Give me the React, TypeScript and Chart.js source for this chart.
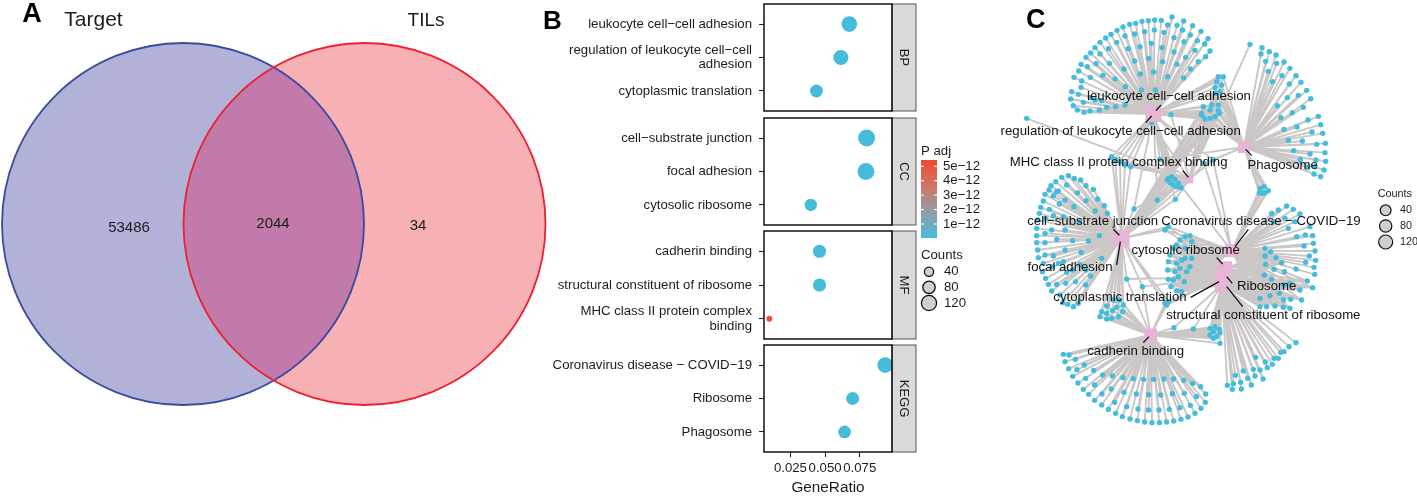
import React, { useEffect, useRef } from "react";
import { Chart, registerables } from "chart.js";
Chart.register(...registerables);

type P = [number, number];
const FONT = "'Liberation Sans', Arial, sans-serif";
const INK = "#1c1c1c";

/* ---------- Panel A ---------- */
const vennNames = ["Target", "TILs"];
const vennCenterX = [183, 364.5];
const vennCenterY = [224, 224];
const vennRadius = [181, 181];
const vennCounts = ["53486", "2044", "34"];

/* ---------- Panel B ---------- */
const facetNames = ["BP", "CC", "MF", "KEGG"];
const bpTerms = ["leukocyte cell\u2212cell adhesion", ["regulation of leukocyte cell\u2212cell", "adhesion"], "cytoplasmic translation"];
const ccTerms = ["cell\u2212substrate junction", "focal adhesion", "cytosolic ribosome"];
const mfTerms = ["cadherin binding", "structural constituent of ribosome", ["MHC class II protein complex", "binding"]];
const keggTerms = ["Coronavirus disease \u2212 COVID\u221219", "Ribosome", "Phagosome"];
const bpRatio = [0.0675, 0.0614, 0.0438];
const ccRatio = [0.08, 0.0795, 0.0397];
const mfRatio = [0.046, 0.046, 0.0098];
const keggRatio = [0.0934, 0.0699, 0.0641];
const bpCounts = [115, 108, 78];
const ccCounts = [135, 132, 72];
const mfCounts = [82, 82, 16];
const keggCounts = [115, 80, 75];
const bpPadj = [1e-14, 1e-14, 1e-14];
const ccPadj = [1e-14, 1e-14, 1e-14];
const mfPadj = [1e-14, 1e-14, 5.4e-12];
const keggPadj = [1e-14, 1e-14, 1e-14];
const ratioTicks = [0.025, 0.05, 0.075];
const padjTicks = [5e-12, 4e-12, 3e-12, 2e-12, 1e-12];
const padjLabels = ["5e\u221212", "4e\u221212", "3e\u221212", "2e\u221212", "1e\u221212"];
const countLegend = [40, 80, 120];

/* ---------- Panel C: network layout ---------- */
const hubNames = ["leukocyte", "regulation", "phagosome", "mhc", "cellSubstrate", "focal", "corona", "cytosolic", "ribosome", "cytoplasmic", "structural", "cadherin"];
const hubX = [460, 462, 732, 568, 364, 366, 695, 675, 667, 665, 665, 452];
const hubY = [342, 344, 441, 538, 715, 717, 752, 805, 832, 845, 855, 1005];
const hubSide = [16, 14, 12, 8, 16, 15, 13, 14, 13, 13, 14, 13];

const fanLeukocyte: P[] = [[215,275],[212,297],[220,317],[232,330],[252,337],[270,333],[298,330],[222,232],[236,213],[243,193],[258,172],[272,159],[285,143],[300,127],[317,114],[333,103],[351,91],[369,81],[389,73],[407,70],[426,64],[445,62],[464,60],[484,61],[503,75],[516,51],[531,76],[551,63],[548,90],[578,77],[571,105],[603,94],[592,122],[624,116],[614,132],[630,153],[617,170],[245,243],[235,283],[250,307],[272,293],[262,200],[288,191],[300,162],[325,146],[350,127],[375,108],[404,102],[434,95],[463,90],[492,97],[522,113],[552,125],[585,151],[522,156],[595,185],[557,172],[572,207],[551,234],[243,262],[271,232],[308,226],[328,190],[372,207],[345,237],[385,146],[404,183],[420,140],[421,222],[446,175],[454,130],[486,143],[488,185],[461,216],[503,230],[531,193],[376,260],[424,270],[466,270],[320,322],[347,320],[375,315],[285,300],[305,302]];
const fanPhagosome: P[] = [[786,143],[783,162],[808,155],[797,184],[828,165],[805,214],[830,190],[852,186],[818,245],[846,227],[870,205],[888,227],[868,252],[903,247],[862,293],[895,286],[920,271],[832,317],[877,338],[910,322],[932,296],[843,353],[891,381],[924,360],[955,349],[852,388],[936,396],[962,374],[968,400],[865,421],[907,423],[950,433],[976,430],[881,452],[930,462],[975,458],[901,479],[948,480],[977,484],[922,503],[945,500],[972,510],[942,522],[962,530]];
const fanCellSubstrate: P[] = [[205,527],[185,532],[167,545],[153,557],[147,570],[135,583],[130,603],[122,622],[118,640],[113,660],[223,535],[242,540],[258,557],[280,568],[293,597],[313,617],[322,640],[200,555],[175,573],[160,588],[148,628],[137,655],[170,575],[195,600],[232,578],[258,602],[285,633],[178,612],[222,620],[160,647],[238,665],[190,650],[155,690],[195,690],[110,685],[110,707],[110,728],[113,750],[115,773],[127,815],[137,835],[145,853],[155,873],[180,885],[188,908],[203,913],[220,920],[235,910],[135,700],[135,728],[135,765],[130,790],[160,768],[170,718],[218,722],[265,723],[298,707],[305,775],[195,750],[243,757],[190,785],[175,790],[157,800],[200,817],[217,810],[258,810],[170,853],[197,850],[227,845],[257,855],[272,828],[240,793]];
const fanCorona: P[] = [[860,618],[835,630],[880,628],[815,640],[900,642],[820,665],[855,655],[930,680],[885,665],[865,685],[890,710],[916,705],[938,707],[912,738],[940,730],[945,753],[928,768],[947,781],[917,787],[942,802],[944,823],[888,807],[853,815],[822,808],[795,745]];
const fanRibosome: P[] = [[812,755],[828,773],[795,768],[845,788],[797,793],[793,825],[815,838],[922,843],[938,863],[870,850],[852,855],[900,870],[838,880],[810,887],[780,895],[850,900],[872,898],[905,900],[780,920],[800,920],[825,918],[850,922],[870,925]];
const fanStructural: P[] = [[888,1028],[867,1040],[852,1055],[842,1057],[822,1075],[835,1075],[767,1072],[796,1086],[817,1093],[802,1103],[730,1113],[760,1108],[780,1110],[706,1126],[743,1135],[765,1128],[789,1137],[682,1156],[700,1151],[722,1147],[754,1155],[697,1168],[724,1167]];
const fanCadherin: P[] = [[190,1063],[207,1065],[226,1078],[195,1085],[206,1106],[231,1109],[253,1095],[281,1111],[218,1129],[257,1135],[234,1149],[284,1155],[250,1168],[266,1183],[284,1201],[305,1215],[325,1228],[347,1240],[367,1250],[390,1257],[412,1262],[434,1266],[456,1268],[478,1268],[500,1266],[521,1263],[543,1258],[564,1251],[585,1240],[603,1225],[616,1207],[617,1182],[602,1160],[578,1150],[551,1141],[521,1137],[492,1137],[461,1138],[431,1138],[400,1136],[369,1133],[337,1128],[308,1125],[306,1182],[334,1167],[372,1177],[409,1182],[446,1184],[482,1185],[517,1181],[553,1180],[589,1190],[344,1207],[380,1220],[414,1227],[446,1230],[477,1230],[508,1228],[540,1223],[571,1216]];
const clusterTopCentre: P[] = [[655,230],[670,230],[650,245],[665,255],[645,262],[660,275],[647,280]];
const clusterRing: P[] = [[610,320],[635,315],[655,315],[605,340],[630,330],[655,332],[605,345],[615,357],[630,355],[645,350],[658,340]];
const clusterMhc: P[] = [[502,540],[515,530],[525,538],[535,550],[510,548],[520,555],[530,560],[543,563],[505,535],[472,600],[526,598]];
const clusterLeftBand: P[] = [[335,470],[345,478],[360,485],[375,495],[392,500],[402,627]];
const clusterMidBand: P[] = [[480,478],[640,480],[612,490]];
const clusterBelowPhago: P[] = [[780,565],[793,560],[805,572],[785,580],[795,578],[778,578]];
const clusterCytosolic: P[] = [[570,707],[555,710],[540,720],[530,735],[575,725],[555,745],[520,745],[510,765],[505,785],[503,810],[505,838],[513,860],[530,872],[545,875],[530,790],[525,815],[520,840],[545,780],[540,805],[535,830],[553,845],[560,815],[570,800],[575,775],[555,775]];
const clusterSubstrateLink: P[] = [[505,680],[495,690]];
const clusterCytoplasmic: P[] = [[305,935],[320,918],[340,900],[358,900],[370,915],[368,935],[355,950],[335,955],[320,957],[300,950],[320,940],[338,932],[350,922]];
const clusterCadStruct: P[] = [[630,985],[645,980],[658,988],[660,998],[650,1010],[640,1015],[630,1005],[640,995],[660,1030],[522,983],[580,987]];
const clusterSmallMid: P[] = [[380,837],[427,860],[495,910],[505,905],[500,915]];
const soloMhc: P[] = [[750,133],[80,355]];
const soloLeuk: P[] = [[513,344],[455,368]];

const leafGroups: { leaves: P[]; parents: string[] }[] = [
  { leaves: fanLeukocyte, parents: ["leukocyte"] },
  { leaves: fanPhagosome, parents: ["phagosome"] },
  { leaves: fanCellSubstrate, parents: ["cellSubstrate"] },
  { leaves: fanCorona, parents: ["corona"] },
  { leaves: fanRibosome, parents: ["corona", "ribosome", "cytosolic", "structural"] },
  { leaves: fanStructural, parents: ["structural"] },
  { leaves: fanCadherin, parents: ["cadherin"] },
  { leaves: clusterTopCentre, parents: ["leukocyte", "phagosome", "mhc"] },
  { leaves: clusterRing, parents: ["leukocyte", "phagosome", "mhc", "cellSubstrate"] },
  { leaves: clusterMhc, parents: ["mhc", "cellSubstrate", "leukocyte"] },
  { leaves: clusterLeftBand, parents: ["leukocyte", "cellSubstrate", "mhc"] },
  { leaves: clusterMidBand, parents: ["phagosome", "corona", "leukocyte", "mhc"] },
  { leaves: clusterBelowPhago, parents: ["phagosome", "corona"] },
  { leaves: clusterCytosolic, parents: ["cytosolic", "ribosome", "cytoplasmic", "structural", "corona"] },
  { leaves: clusterSubstrateLink, parents: ["cellSubstrate", "corona", "cytosolic"] },
  { leaves: clusterCytoplasmic, parents: ["cellSubstrate", "cadherin"] },
  { leaves: clusterCadStruct, parents: ["cadherin", "structural"] },
  { leaves: clusterSmallMid, parents: ["cellSubstrate", "cadherin", "ribosome"] },
  { leaves: soloMhc, parents: ["mhc"] },
  { leaves: soloLeuk, parents: ["leukocyte", "mhc"] },
];

const netLabels = ["leukocyte cell\u2212cell adhesion", "regulation of leukocyte cell\u2212cell adhesion", "MHC class II protein complex binding", "Phagosome", "cell\u2212substrate junction", "focal adhesion", "Coronavirus disease \u2212 COVID\u221219", "cytosolic ribosome", "Ribosome", "cytoplasmic translation", "structural constituent of ribosome", "cadherin binding"];
const netLabelX = [507, 362, 356, 848, 278, 210, 783, 557, 800, 360, 790, 407];
const netLabelY = [288, 395, 488, 495, 663, 801, 663, 750, 858, 891, 947, 1055];
const netLeaderFrom: P[] = [[483,315],[437,368],[548,512],[755,467],[340,688],[350,795],[745,688],[650,773],[697,850],[572,892],[728,920],[430,1028]];
const netLeaderTo: P[] = [[468,332],[455,348],[565,532],[737,448],[358,706],[361,725],[705,740],[668,792],[680,830],[657,845],[680,860],[447,1010]];
const netCountLegendY = [631, 678, 726];
const netCountLegendR = [5.4, 6.2, 7];

const sizeOf = (c: number) => 0.73 * Math.sqrt(c);
const noAxis = { display: false };

function text(ctx: CanvasRenderingContext2D, s: string, x: number, y: number, font: string, align: CanvasTextAlign = "left", color = INK) {
  ctx.save();
  ctx.font = font;
  ctx.fillStyle = color;
  ctx.textAlign = align;
  ctx.textBaseline = "middle";
  ctx.fillText(s, x, y);
  ctx.restore();
}

const canvasStyle = (left: number, top: number, w: number, h: number): React.CSSProperties => ({ position: "absolute", left, top, width: w, height: h, display: "block" });

const FACET_LEFT = 540;
const facetTops = [4, 118, 231, 345];
const facetHeights = [107, 107, 108, 107];
const facetTerms = [bpTerms, ccTerms, mfTerms, keggTerms];
const facetRatios = [bpRatio, ccRatio, mfRatio, keggRatio];
const facetCounts = [bpCounts, ccCounts, mfCounts, keggCounts];
const facetPadj = [bpPadj, ccPadj, mfPadj, keggPadj];

export default function App() {
  const venn = useRef<HTMLCanvasElement>(null);
  const facets = [useRef<HTMLCanvasElement>(null), useRef<HTMLCanvasElement>(null), useRef<HTMLCanvasElement>(null), useRef<HTMLCanvasElement>(null)];
  const legend = useRef<HTMLCanvasElement>(null);
  const net = useRef<HTMLCanvasElement>(null);

  useEffect(() => {
    document.body.style.margin = "0";
    document.body.style.background = "#fff";
    const charts: Chart[] = [];

    /* Panel A */
    const circle = (i: number, fill: string, stroke: string, width: number, order: number) => ({
      data: [{ x: vennCenterX[i], y: vennCenterY[i], r: vennRadius[i] }],
      backgroundColor: fill,
      borderColor: stroke,
      borderWidth: width,
      order,
      clip: false,
    });
    charts.push(new Chart(venn.current!, {
      type: "bubble",
      data: {
        datasets: [
          circle(1, "transparent", "#ec2230", 1.8, 1),
          circle(0, "transparent", "#3a4ba0", 1.8, 2),
          circle(1, "rgb(247,176,180)", "transparent", 0, 3),
          circle(0, "rgb(178,178,216)", "transparent", 0, 4),
        ] as any,
      },
      options: {
        animation: false, responsive: false,
        layout: { autoPadding: false },
        plugins: { legend: noAxis, tooltip: { enabled: false } },
        scales: { x: { ...noAxis, type: "linear", min: 0, max: 550 }, y: { ...noAxis, type: "linear", min: 0, max: 497, reverse: true } },
      },
      plugins: [{
        id: "vennOverlap",
        afterDatasetDraw(c: any, args: any) {
          if (args.index !== 2) return;
          const ctx = c.ctx, xs = c.scales.x, ys = c.scales.y;
          ctx.save();
          ctx.beginPath();
          ctx.arc(xs.getPixelForValue(vennCenterX[0]), ys.getPixelForValue(vennCenterY[0]), vennRadius[0], 0, Math.PI * 2);
          ctx.clip();
          ctx.beginPath();
          ctx.arc(xs.getPixelForValue(vennCenterX[1]), ys.getPixelForValue(vennCenterY[1]), vennRadius[1], 0, Math.PI * 2);
          ctx.fillStyle = "rgb(193,122,170)";
          ctx.fill();
          ctx.restore();
        },
      }, {
        id: "vennText",
        afterDraw(c: any) {
          const ctx = c.ctx, xs = c.scales.x, ys = c.scales.y;
          const px = (v: number) => xs.getPixelForValue(v), py = (v: number) => ys.getPixelForValue(v);
          text(ctx, "A", px(32), py(15), `bold 27px ${FONT}`, "center", "#000");
          text(ctx, vennNames[0], px(93.5), py(20), `21px ${FONT}`, "center");
          text(ctx, vennNames[1], px(426), py(21), `19px ${FONT}`, "center");
          text(ctx, vennCounts[0], px(129), py(228), `15px ${FONT}`, "center");
          text(ctx, vennCounts[1], px(273), py(224), `15px ${FONT}`, "center");
          text(ctx, vennCounts[2], px(418), py(226), `15px ${FONT}`, "center");
        },
      }],
    } as any));

    /* Panel B */
    facetNames.forEach((name, f) => {
      const last = f === facetNames.length - 1;
      charts.push(new Chart(facets[f].current!, {
        type: "scatter",
        data: {
          datasets: [{
            data: facetRatios[f].map((x, i) => ({ x, y: i })),
            pointRadius: facetCounts[f].map(sizeOf),
            pointBackgroundColor: facetPadj[f].map((p) => (p > 2.5e-12 ? "#ee4d2f" : "#46bcdb")),
            pointBorderWidth: 0,
          }],
        },
        options: {
          animation: false, responsive: false,
          layout: { autoPadding: false, padding: { left: 0, right: 28, top: 4, bottom: last ? 0 : 4 } },
          plugins: { legend: noAxis, tooltip: { enabled: false } },
          scales: {
            x: {
              type: "linear", min: 0.00594, max: 0.0983, display: last,
              afterBuildTicks: (a: any) => { a.ticks = ratioTicks.map((value) => ({ value })); },
              afterFit: (a: any) => { if (last) a.height = 45; a.paddingLeft = 0; a.paddingRight = 0; },
              grid: { drawOnChartArea: false, drawTicks: true, tickLength: 5, tickColor: "#222", tickWidth: 1.1 },
              border: { display: false },
              ticks: { color: INK, font: { size: 13.2, family: FONT }, maxRotation: 0, autoSkip: false, padding: 3, callback: (v: any) => Number(v).toFixed(3) },
              title: { display: true, text: "GeneRatio", color: INK, font: { size: 15.3, family: FONT }, padding: { top: 2, bottom: 0 } },
            },
            y: {
              type: "linear", min: -0.6, max: 2.6, reverse: true,
              afterBuildTicks: (a: any) => { a.ticks = [0, 1, 2].map((value) => ({ value })); },
              afterFit: (a: any) => { a.width = 224; a.paddingTop = 0; a.paddingBottom = 0; },
              grid: { drawOnChartArea: false, drawTicks: true, tickLength: 5, tickColor: "#222", tickWidth: 1.1 },
              border: { display: false },
              ticks: { color: INK, font: { size: 13.2, family: FONT, lineHeight: 1.1 }, padding: 7, autoSkip: false, callback: (v: any) => facetTerms[f][v] as any },
            },
          },
        },
        plugins: [{
          id: "facetFrame",
          afterDatasetsDraw(c: any) {
            const { ctx, chartArea: a } = c;
            ctx.save();
            ctx.fillStyle = "#d9d9d9";
            ctx.strokeStyle = "#555";
            ctx.lineWidth = 1;
            ctx.fillRect(a.right, a.top, 24, a.bottom - a.top);
            ctx.strokeRect(a.right, a.top, 24, a.bottom - a.top);
            ctx.strokeStyle = "#111";
            ctx.lineWidth = 1.5;
            ctx.strokeRect(a.left, a.top, a.right - a.left, a.bottom - a.top);
            ctx.translate(a.right + 12, (a.top + a.bottom) / 2);
            ctx.rotate(Math.PI / 2);
            ctx.font = `13px ${FONT}`;
            ctx.fillStyle = INK;
            ctx.textAlign = "center";
            ctx.textBaseline = "middle";
            ctx.fillText(name, 0, 0);
            ctx.restore();
          },
        }],
      } as any));
    });

    /* Panel B legends */
    const legendY = [271.7, 287.3, 303];
    charts.push(new Chart(legend.current!, {
      type: "scatter",
      data: {
        datasets: [{
          data: countLegend.map((_, i) => ({ x: 929, y: legendY[i] })),
          pointRadius: [4.6, 6.2, 7.6],
          pointBackgroundColor: "#cfcfcf",
          pointBorderColor: "#111",
          pointBorderWidth: 1.3,
        }],
      },
      options: {
        animation: false, responsive: false,
        layout: { autoPadding: false },
        plugins: { legend: noAxis, tooltip: { enabled: false } },
        scales: { x: { ...noAxis, type: "linear", min: 915, max: 1000 }, y: { ...noAxis, type: "linear", min: 0, max: 320, reverse: true } },
      },
      plugins: [{
        id: "legendDraw",
        afterDraw(c: any) {
          const ctx = c.ctx, xs = c.scales.x, ys = c.scales.y;
          const px = (v: number) => xs.getPixelForValue(v), py = (v: number) => ys.getPixelForValue(v);
          const top = py(160), bot = py(238), l = px(921), r = px(937);
          const g = ctx.createLinearGradient(0, top, 0, bot);
          g.addColorStop(0, "rgb(236,74,48)");
          g.addColorStop(0.35, "rgb(207,120,105)");
          g.addColorStop(0.65, "rgb(150,155,165)");
          g.addColorStop(1, "rgb(70,188,220)");
          ctx.fillStyle = g;
          ctx.fillRect(l, top, r - l, bot - top);
          const pxPerUnit = (224 - 166.3) / 4e-12;
          padjTicks.forEach((v, i) => {
            const y = py(224 - (v - 1e-12) * pxPerUnit);
            ctx.strokeStyle = "#fff";
            ctx.lineWidth = 1;
            ctx.beginPath();
            ctx.moveTo(l, y); ctx.lineTo(l + 3, y);
            ctx.moveTo(r - 3, y); ctx.lineTo(r, y);
            ctx.stroke();
            text(ctx, padjLabels[i], px(943), y, `13.2px ${FONT}`);
          });
          text(ctx, "P adj", px(921), py(151), `13.2px ${FONT}`);
          text(ctx, "Counts", px(921), py(255), `13.2px ${FONT}`);
          countLegend.forEach((v, i) => text(ctx, String(v), px(944), py(legendY[i]), `13.2px ${FONT}`));
        },
      }],
    } as any));

    /* Panel C */
    const edges: any[] = [];
    leafGroups.forEach((g) => g.leaves.forEach(([x, y]) => g.parents.forEach((p) => {
      const h = hubNames.indexOf(p);
      edges.push({ x: hubX[h], y: hubY[h] }, { x, y }, { x: NaN, y: NaN });
    })));
    const leaders: any[] = [];
    netLeaderFrom.forEach((a, i) => leaders.push({ x: a[0], y: a[1] }, { x: netLeaderTo[i][0], y: netLeaderTo[i][1] }, { x: NaN, y: NaN }));
    const allLeaves = leafGroups.flatMap((g) => g.leaves.map(([x, y]) => ({ x, y })));
    charts.push(new Chart(net.current!, {
      type: "scatter",
      data: {
        datasets: [
          { data: leaders, showLine: true, spanGaps: false, borderColor: "#111", borderWidth: 1.3, pointRadius: 0, order: 1 },
          { data: hubX.map((x, i) => ({ x, y: hubY[i] })), pointStyle: "rect", pointRadius: hubSide.map((s) => s * Math.SQRT1_2), pointBackgroundColor: "#e8b4d6", pointBorderWidth: 0, order: 2 },
          { data: allLeaves, pointRadius: 2.7, pointBackgroundColor: "#46bcdb", pointBorderWidth: 0, order: 3 },
          { data: edges, showLine: true, spanGaps: false, borderColor: "#cbc7c7", borderWidth: 1.9, pointRadius: 0, order: 4 },
          { data: netCountLegendY.map((y) => ({ x: 1157, y })), pointRadius: netCountLegendR, pointBackgroundColor: "#cfcfcf", pointBorderColor: "#111", pointBorderWidth: 1.2, order: 0 },
        ],
      },
      options: {
        animation: false, responsive: false,
        layout: { autoPadding: false },
        plugins: { legend: noAxis, tooltip: { enabled: false } },
        scales: { x: { ...noAxis, type: "linear", min: -30, max: 1251 }, y: { ...noAxis, type: "linear", min: 0, max: 1491, reverse: true } },
      },
      plugins: [{
        id: "netText",
        afterDraw(c: any) {
          const ctx = c.ctx, xs = c.scales.x, ys = c.scales.y;
          const px = (v: number) => xs.getPixelForValue(v), py = (v: number) => ys.getPixelForValue(v);
          netLabels.forEach((s, i) => text(ctx, s, px(netLabelX[i]), py(netLabelY[i]), `13.2px ${FONT}`, "center", "#111"));
          text(ctx, "C", px(107), py(62), `bold 27px ${FONT}`, "center", "#000");
          text(ctx, "Counts", px(1133), py(583), `10.8px ${FONT}`);
          countLegend.forEach((v, i) => text(ctx, String(v), px(1200), py(netCountLegendY[i]), `10.8px ${FONT}`));
        },
      }],
    } as any));

    return () => charts.forEach((c) => c.destroy());
  }, []);

  return (
    <div style={{ position: "absolute", left: 0, top: 0, width: 1417, height: 497, overflow: "hidden", background: "#fff" }}>
      <canvas ref={venn} width={550} height={497} style={canvasStyle(0, 0, 550, 497)} />
      {facetNames.map((n, f) => {
        const last = f === facetNames.length - 1;
        const h = facetHeights[f] + 4 + (last ? 45 : 4);
        return <canvas key={n} ref={facets[f]} width={380} height={h} style={canvasStyle(FACET_LEFT, facetTops[f] - 4, 380, h)} />;
      })}
      <canvas ref={legend} width={85} height={320} style={canvasStyle(915, 0, 85, 320)} />
      <div style={{ position: "absolute", left: 543, top: 6, font: `bold 26px ${FONT}`, color: "#000", lineHeight: "28px" }}>B</div>
      <canvas ref={net} width={427} height={497} style={canvasStyle(990, 0, 427, 497)} />
    </div>
  );
}
